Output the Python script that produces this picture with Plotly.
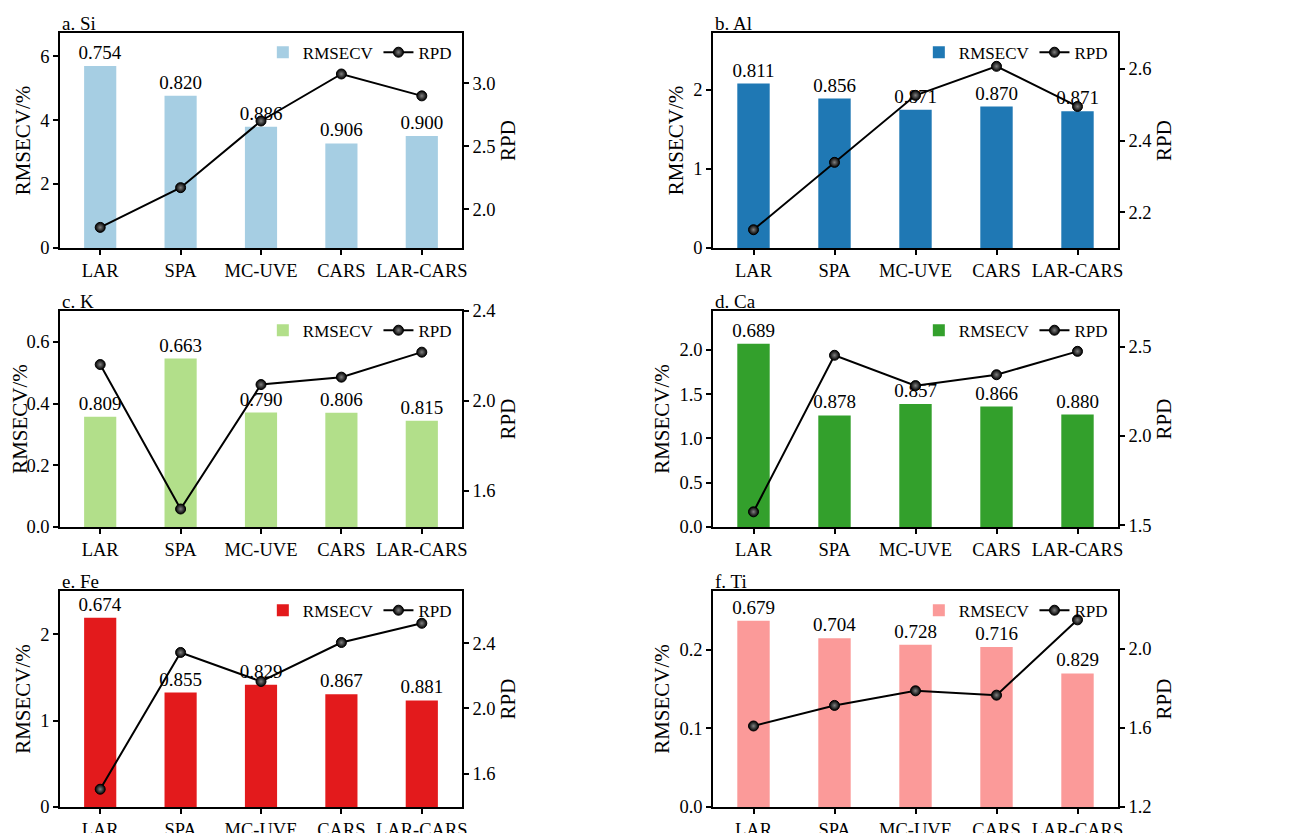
import plotly.graph_objects as go

methods = ["LAR", "SPA", "MC-UVE", "CARS", "LAR-CARS"]

panel_titles = ["a. Si", "b. Al", "c. K", "d. Ca", "e. Fe", "f. Ti"]

rmsecv_si = [5.69, 4.76, 3.79, 3.27, 3.50]
rmsecv_al = [2.08, 1.89, 1.75, 1.79, 1.73]
rmsecv_k = [0.357, 0.546, 0.371, 0.370, 0.344]
rmsecv_ca = [2.07, 1.26, 1.39, 1.36, 1.27]
rmsecv_fe = [2.19, 1.325, 1.414, 1.306, 1.233]
rmsecv_ti = [0.237, 0.215, 0.2065, 0.2036, 0.170]

rpd_si = [1.854, 2.17, 2.70, 3.074, 2.90]
rpd_al = [2.151, 2.339, 2.526, 2.607, 2.495]
rpd_k = [2.162, 1.52, 2.073, 2.106, 2.217]
rpd_ca = [1.575, 2.452, 2.282, 2.343, 2.474]
rpd_fe = [1.504, 2.343, 2.165, 2.404, 2.522]
rpd_ti = [1.61, 1.714, 1.788, 1.766, 2.147]

r2_si = ["0.754", "0.820", "0.886", "0.906", "0.900"]
r2_al = ["0.811", "0.856", "0.871", "0.870", "0.871"]
r2_k = ["0.809", "0.663", "0.790", "0.806", "0.815"]
r2_ca = ["0.689", "0.878", "0.857", "0.866", "0.880"]
r2_fe = ["0.674", "0.855", "0.829", "0.867", "0.881"]
r2_ti = ["0.679", "0.704", "0.728", "0.716", "0.829"]

bar_colors = ["#a6cee3", "#1f78b4", "#b2df8a", "#33a02c", "#e31a1c", "#fb9a99"]

rmsecv_ranges = [[0, 6.72], [0, 2.72], [0, 0.70], [0, 2.44], [0, 2.50], [0, 0.275]]
rmsecv_dticks = [2, 1, 0.2, 0.5, 1, 0.1]
rmsecv_formats = ["d", "d", ".1f", ".1f", "d", ".1f"]
rpd_ranges = [[1.69, 3.40], [2.10, 2.70], [1.44, 2.40], [1.49, 2.70], [1.395, 2.72], [1.2, 2.293]]
rpd_dticks = [0.5, 0.2, 0.4, 0.5, 0.4, 0.4]

rmsecv_all = [rmsecv_si, rmsecv_al, rmsecv_k, rmsecv_ca, rmsecv_fe, rmsecv_ti]
rpd_all = [rpd_si, rpd_al, rpd_k, rpd_ca, rpd_fe, rpd_ti]
r2_all = [r2_si, r2_al, r2_k, r2_ca, r2_fe, r2_ti]

W, H = 1292, 833
OFF = 8  # page body margin of the browser
col_px = [(60 - OFF, 462 - OFF), (713 - OFF, 1118 - OFF)]
row_px = [(33 - OFF, 248 - OFF), (311 - OFF, 527 - OFF), (591 - OFF, 807 - OFF)]

FONT = "Liberation Serif"

fig = go.Figure()
layout = dict(
    width=W, height=H,
    margin=dict(l=0, r=0, t=0, b=0),
    paper_bgcolor="white", plot_bgcolor="white",
    font=dict(family=FONT, color="black", size=18),
    annotations=[],
)

for i in range(6):
    r, c = divmod(i, 2)
    xd = [col_px[c][0] / W, col_px[c][1] / W]
    yd = [1 - row_px[r][1] / H, 1 - row_px[r][0] / H]
    xa = "x" if i == 0 else f"x{i+1}"
    ya1 = f"y{2*i+1}" if i > 0 else "y"
    ya2 = f"y{2*i+2}"
    leg = "legend" if i == 0 else f"legend{i+1}"

    fig.add_trace(go.Bar(
        x=methods, y=rmsecv_all[i], name="RMSECV",
        marker=dict(color=bar_colors[i], line=dict(width=0)),
        width=0.4,
        text=r2_all[i], textposition="outside", cliponaxis=False,
        constraintext="none",
        textfont=dict(family=FONT, size=19, color="black"),
        xaxis=xa, yaxis=ya1, legend=leg,
    ))
    fig.add_trace(go.Scatter(
        x=methods, y=rpd_all[i], name="RPD", mode="lines+markers",
        line=dict(color="black", width=2),
        marker=dict(symbol="circle", size=10, color="black",
                    gradient=dict(type="radial", color="#808080"),
                    line=dict(color="black", width=1)),
        cliponaxis=False,
        xaxis=xa, yaxis=ya2, legend=leg,
    ))

    xkey = "xaxis" if i == 0 else f"xaxis{i+1}"
    y1key = "yaxis" if i == 0 else f"yaxis{2*i+1}"
    y2key = f"yaxis{2*i+2}"
    layout[xkey] = dict(
        domain=xd, anchor=ya1, type="category", categoryorder="array",
        categoryarray=methods, range=[-0.5, 4.5],
        showline=True, linecolor="black", linewidth=1.5, mirror=True,
        ticks="outside", ticklen=5, tickwidth=1.5, tickcolor="black",
        tickfont=dict(family=FONT, size=18.5), showgrid=False, zeroline=False,
        automargin=False,
    )
    layout[y1key] = dict(
        domain=yd, anchor=xa, range=rmsecv_ranges[i], dtick=rmsecv_dticks[i], tick0=0,
        tickformat=rmsecv_formats[i],
        showline=True, linecolor="black", linewidth=1.5,
        ticks="outside", ticklen=5, tickwidth=1.5, tickcolor="black",
        tickfont=dict(family=FONT, size=18.5), showgrid=False, zeroline=False,
        title=dict(text="RMSECV/%", font=dict(family=FONT, size=21), standoff=4),
        automargin=False,
    )
    layout[y2key] = dict(
        domain=yd, anchor=xa, overlaying=ya1, side="right",
        range=rpd_ranges[i], dtick=rpd_dticks[i], tick0=0, tickformat=".1f",
        showline=True, linecolor="black", linewidth=1.5,
        ticks="outside", ticklen=5, tickwidth=1.5, tickcolor="black",
        tickfont=dict(family=FONT, size=18.5), showgrid=False, zeroline=False,
        title=dict(text="RPD", font=dict(family=FONT, size=21), standoff=4),
        automargin=False,
    )
    layout[leg] = dict(
        orientation="h", x=xd[1] - 0.004, y=yd[1] - 0.002,
        xanchor="right", yanchor="top",
        bgcolor="rgba(0,0,0,0)", borderwidth=0,
        font=dict(family=FONT, size=17), itemwidth=30,
        tracegroupgap=0,
    )
    layout["annotations"].append(dict(
        text=panel_titles[i], xref="paper", yref="paper",
        x=xd[0], y=yd[1], xanchor="left", yanchor="bottom",
        showarrow=False, font=dict(family=FONT, size=19), xshift=0, yshift=-3,
    ))

fig.update_layout(**layout)
fig.write_html("out.html")
